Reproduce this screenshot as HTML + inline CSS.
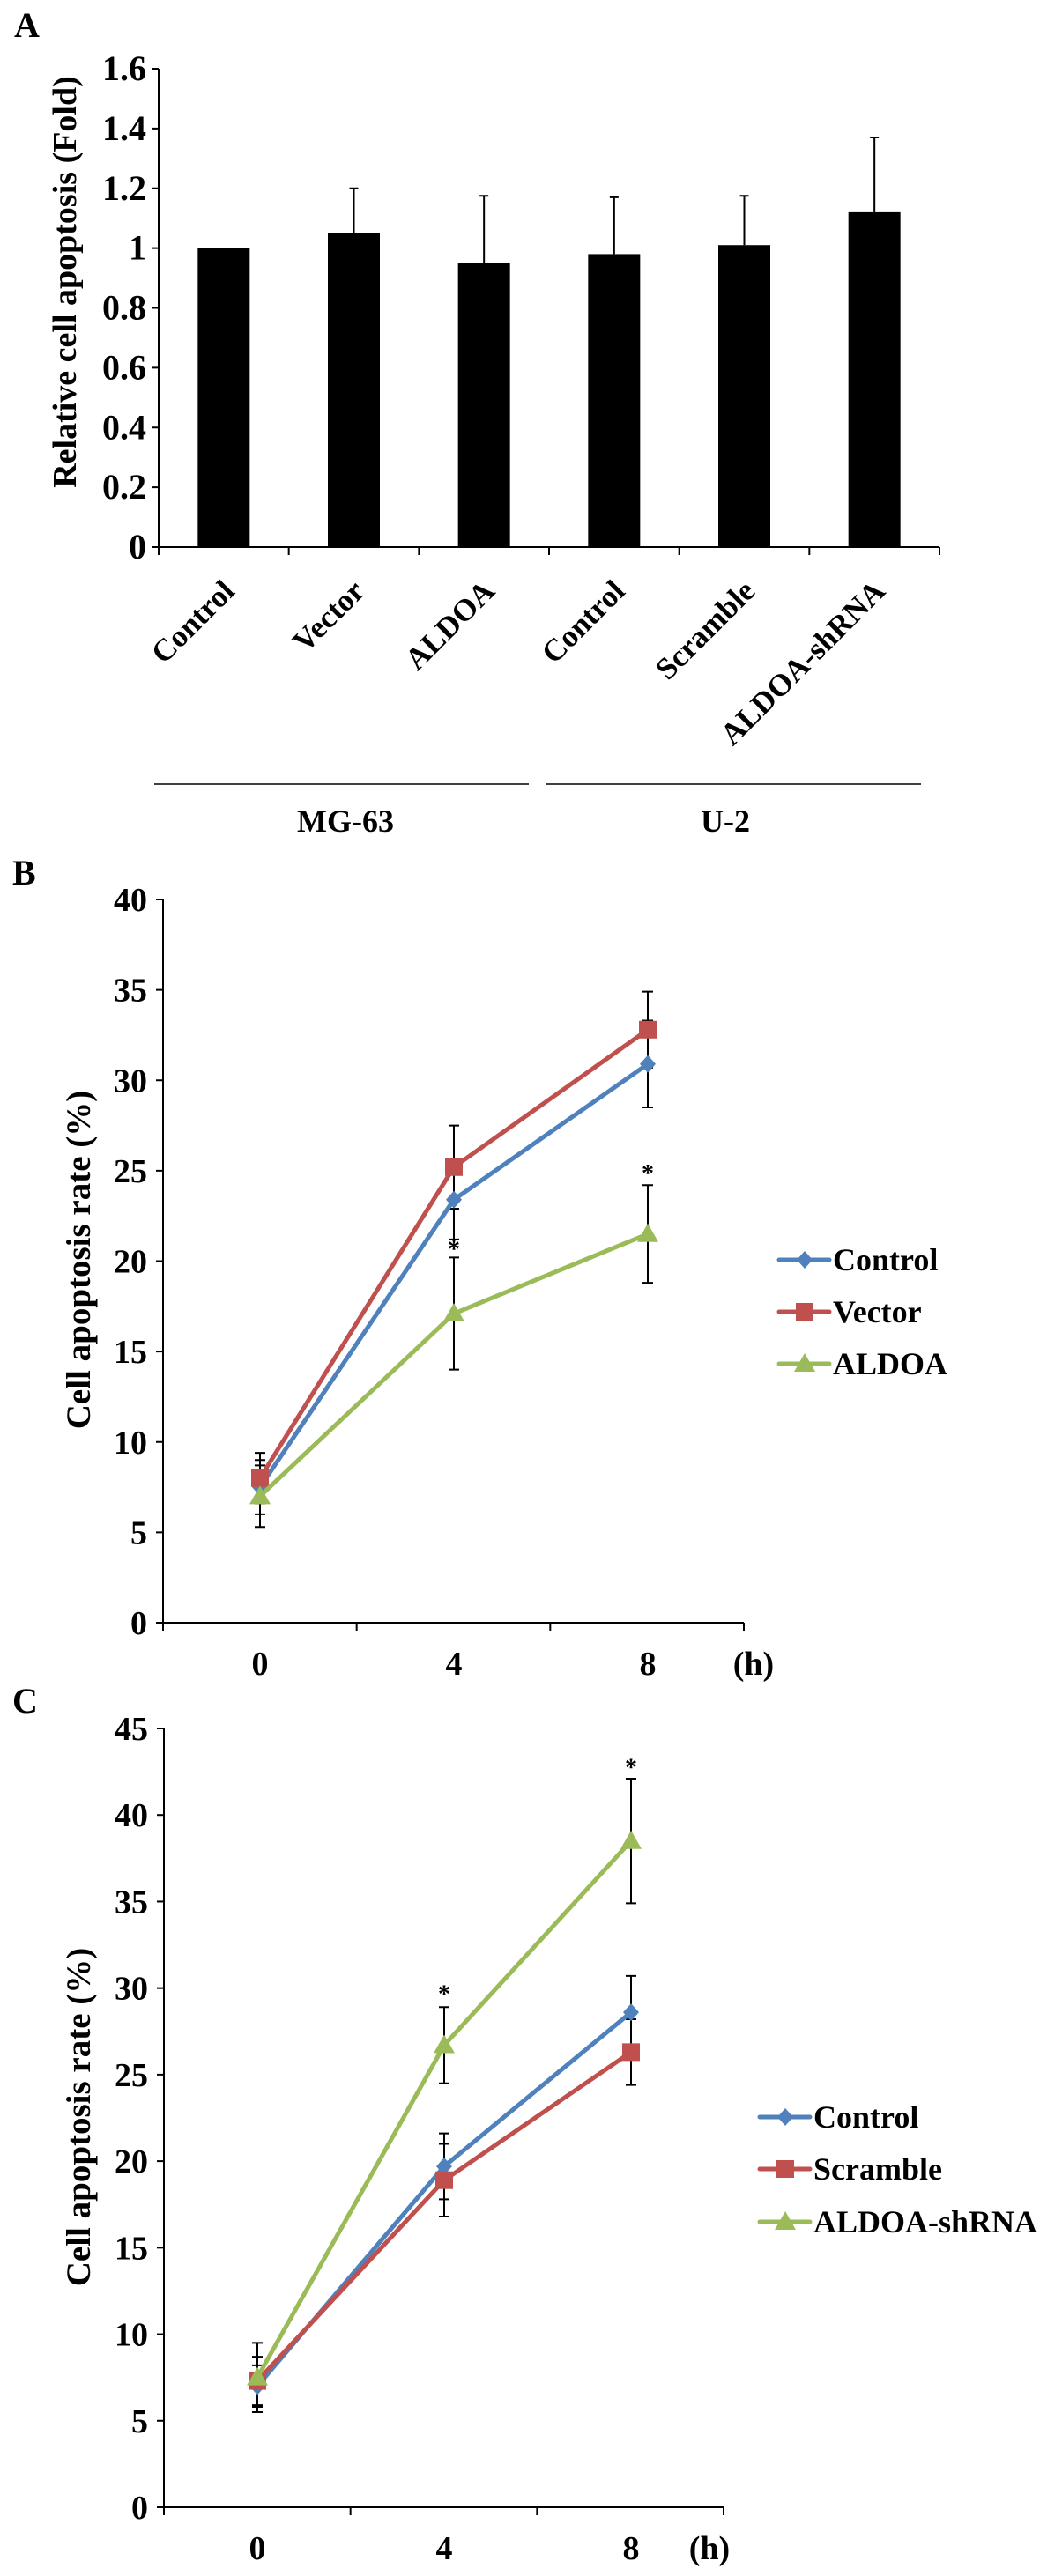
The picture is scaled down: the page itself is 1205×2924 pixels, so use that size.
<!DOCTYPE html>
<html><head><meta charset="utf-8">
<style>
html,body{margin:0;padding:0;background:#fff;}
svg{display:block;}
text{font-family:"Liberation Serif","Times New Roman",serif;font-weight:bold;fill:#000;}
</style></head>
<body>
<svg id="fig" width="1205" height="2924" viewBox="0 0 1205 2924" xmlns="http://www.w3.org/2000/svg"></svg>
<script>
// ---------- Panel A data ----------
const barCategories = ["Control","Vector","ALDOA","Control","Scramble","ALDOA-shRNA"];
const barValues = [1.0, 1.05, 0.95, 0.98, 1.01, 1.12];
const barErrors = [0, 0.15, 0.225, 0.19, 0.165, 0.25];
const barTicks = ["0","0.2","0.4","0.6","0.8","1","1.2","1.4","1.6"];

// ---------- Panel B data ----------
const timeLabels = ["0","4","8"];
const bSeriesNames = ["Control","Vector","ALDOA"];
const bControl = [7.5, 23.4, 30.9];
const bControlErr = [1.5, 2.2, 2.4];
const bVector = [8.0, 25.2, 32.8];
const bVectorErr = [1.4, 2.3, 2.1];
const bAldoa = [7.0, 17.1, 21.5];
const bAldoaErr = [1.7, 3.1, 2.7];
const bTicks = [0,5,10,15,20,25,30,35,40];

// ---------- Panel C data ----------
const cSeriesNames = ["Control","Scramble","ALDOA-shRNA"];
const cControl = [7.0, 19.7, 28.6];
const cControlErr = [1.2, 1.9, 2.1];
const cScramble = [7.3, 18.9, 26.3];
const cScrambleErr = [1.4, 2.1, 1.9];
const cShrna = [7.5, 26.7, 38.5];
const cShrnaErr = [2.0, 2.2, 3.6];
const cTicks = [0,5,10,15,20,25,30,35,40,45];

const NS="http://www.w3.org/2000/svg";
const svg=document.getElementById('fig');
function mk(tag,attrs,parent){const e=document.createElementNS(NS,tag);for(const k in attrs)e.setAttribute(k,attrs[k]);(parent||svg).appendChild(e);return e;}
function txt(str,x,y,size,anchor,parent){const t=mk('text',{x:x,y:y,'font-size':size,'text-anchor':anchor||'start'},parent);t.textContent=str;return t;}

const BLUE="#4f81bd", RED="#c0504d", GREEN="#9bbb59";

// ================= Panel A =================
(function(){
  const g=mk('g',{});
  
  
  const x0=180,x1=1066,yTop=78,yBot=621,vmax=1.6;
  const yA=v=>yBot-(v/vmax)*(yBot-yTop);
  const cw=(x1-x0)/barCategories.length;
  const xA=i=>x0+cw*(i+0.5);
  const lt=txt("A",16,42,40,'start',g);
  
  
  const ya=mk('line',{x1:x0,y1:yTop,x2:x0,y2:yBot,stroke:'#000','stroke-width':2},g);
  
  
  const xa=mk('line',{x1:x0,y1:yBot,x2:x1,y2:yBot,stroke:'#000','stroke-width':2},g);
  
  
  barTicks.forEach((lab)=>{
    const v=parseFloat(lab),y=yA(v);
    mk('line',{x1:x0-8,y1:y,x2:x0,y2:y,stroke:'#000','stroke-width':2},g);
    const t=txt(lab,166,y+13,40,'end',g);
    
    
  });
  for(let i=0;i<=barCategories.length;i++){
    const x=x0+cw*i;
    mk('line',{x1:x,y1:yBot,x2:x,y2:yBot+9,stroke:'#000','stroke-width':2},g);
  }
  const yt=txt("Relative cell apoptosis (Fold)",0,0,38,'middle',g);
  yt.setAttribute('transform','translate(86,320) rotate(-90)');
  
  
  barCategories.forEach((c,i)=>{
    const cx=xA(i),bw=59,v=barValues[i];
    const r=mk('rect',{x:cx-bw/2,y:yA(v),width:bw,height:yBot-yA(v),fill:'#000'},g);
    
    
    if(barErrors[i]>0){
      const e=mk('path',{d:`M${cx} ${yA(v)} V${yA(v+barErrors[i])} M${cx-5} ${yA(v+barErrors[i])} H${cx+5}`,stroke:'#000','stroke-width':2,fill:'none'},g);
      
      
    }
    const t=txt(c,0,0,35,'end',g);
    t.setAttribute('transform',`translate(${cx+14},${yBot+52}) rotate(-45)`);
    
    
  });
  const l1=mk('line',{x1:175,y1:890,x2:600,y2:890,stroke:'#000','stroke-width':1.5},g);
  
  
  const l2=mk('line',{x1:619,y1:890,x2:1045,y2:890,stroke:'#000','stroke-width':1.5},g);
  
  
  const g1=txt("MG-63",392,944,36,'middle',g);
  
  
  const g2=txt("U-2",823,944,36,'middle',g);
  
  
})();

// ================= Line panels =================
function marker(g,shape,x,y,color){
  if(shape==='diamond') return mk('path',{d:`M${x} ${y-10} L${x+9} ${y} L${x} ${y+10} L${x-9} ${y} Z`,fill:color},g);
  if(shape==='square') return mk('rect',{x:x-10,y:y-10,width:20,height:20,fill:color},g);
  return mk('path',{d:`M${x} ${y-12} L${x+12} ${y+9} L${x-12} ${y+9} Z`,fill:color},g);
}
function linePanel(opt){
  const g=mk('g',{});
  
  
  const {x0,x1,yTop,yBot,vmax,px}=opt;
  const yS=v=>yBot-(v/vmax)*(yBot-yTop);
  const xS=i=>px[0]+(px[1]-px[0])*i;
  const lt=txt(opt.letter,14,opt.letterY,40,'start',g);
  
  
  const ya=mk('line',{x1:x0,y1:yTop,x2:x0,y2:yBot,stroke:'#000','stroke-width':2},g);
  
  
  const xa=mk('line',{x1:x0,y1:yBot,x2:x1,y2:yBot,stroke:'#000','stroke-width':2},g);
  
  
  opt.ticks.forEach(v=>{
    const y=yS(v);
    mk('line',{x1:x0-8,y1:y,x2:x0,y2:y,stroke:'#000','stroke-width':2},g);
    const t=txt(String(v),x0-18,y+13,38,'end',g);
    
    
  });
  const step=(x1-x0)/3;
  for(let i=0;i<=3;i++) mk('line',{x1:x0+step*i,y1:yBot,x2:x0+step*i,y2:yBot+9,stroke:'#000','stroke-width':2},g);
  timeLabels.forEach((l,i)=>{
    const t=txt(l,xS(i),opt.tickY,38,'middle',g);
    
    
  });
  const h=txt("(h)",opt.hX,opt.tickY,38,'middle',g);
  
  
  const yt=txt("Cell apoptosis rate (%)",0,0,39,'middle',g);
  yt.setAttribute('transform',`translate(102,${opt.titleY}) rotate(-90)`);
  
  
  opt.series.forEach(s=>{
    s.vals.forEach((v,i)=>{
      const x=xS(i),a=yS(v+s.err[i]),b=yS(v-s.err[i]);
      const e=mk('path',{d:`M${x} ${a} V${b} M${x-6} ${a} H${x+6} M${x-6} ${b} H${x+6}`,stroke:'#000','stroke-width':2,fill:'none'},g);
      
      
    });
  });
  opt.series.forEach(s=>{
    const pl=mk('polyline',{points:s.vals.map((v,i)=>xS(i)+','+yS(v)).join(' '),fill:'none',stroke:s.color,'stroke-width':5,'stroke-linejoin':'round'},g);
    
    
    s.vals.forEach((v,i)=>{
      const m=marker(g,s.shape,xS(i),yS(v),s.color);
      
      
    });
  });
  opt.stars.forEach(st=>{
    const t=txt("*",xS(st[0]),yS(st[1])+14,28,'middle',g);
    
    
  });
  opt.series.forEach((s,k)=>{
    const y=opt.legY[k];
    const lg=mk('g',{},g);
    
    
    mk('line',{x1:opt.legX,y1:y,x2:opt.legX+57,y2:y,stroke:s.color,'stroke-width':5,'stroke-linecap':'round'},lg);
    marker(lg,s.shape,opt.legX+29,y,s.color);
    txt(s.label,opt.legX+61,y+12,36,'start',lg);
  });
}

linePanel({name:'panel-b-line-chart',letter:'B',letterY:1004,x0:185,x1:844,yTop:1021,yBot:1842,vmax:40,
  px:[295,515],ticks:bTicks,tickY:1901,hX:855,titleY:1430,legX:884,legY:[1430,1489,1548],
  series:[
    {key:'control',label:bSeriesNames[0],vals:bControl,err:bControlErr,color:BLUE,shape:'diamond'},
    {key:'vector',label:bSeriesNames[1],vals:bVector,err:bVectorErr,color:RED,shape:'square'},
    {key:'aldoa',label:bSeriesNames[2],vals:bAldoa,err:bAldoaErr,color:GREEN,shape:'triangle'}],
  stars:[[1,20.9],[2,25.1]]});

linePanel({name:'panel-c-line-chart',letter:'C',letterY:1944,x0:186,x1:821,yTop:1962,yBot:2846,vmax:45,
  px:[292,504],ticks:cTicks,tickY:2905,hX:805,titleY:2403,legX:862,legY:[2403,2462,2522],
  series:[
    {key:'control',label:cSeriesNames[0],vals:cControl,err:cControlErr,color:BLUE,shape:'diamond'},
    {key:'scramble',label:cSeriesNames[1],vals:cScramble,err:cScrambleErr,color:RED,shape:'square'},
    {key:'aldoa-shrna',label:cSeriesNames[2],vals:cShrna,err:cShrnaErr,color:GREEN,shape:'triangle'}],
  stars:[[1,29.9],[2,43.0]]});
</script>
</body></html>
